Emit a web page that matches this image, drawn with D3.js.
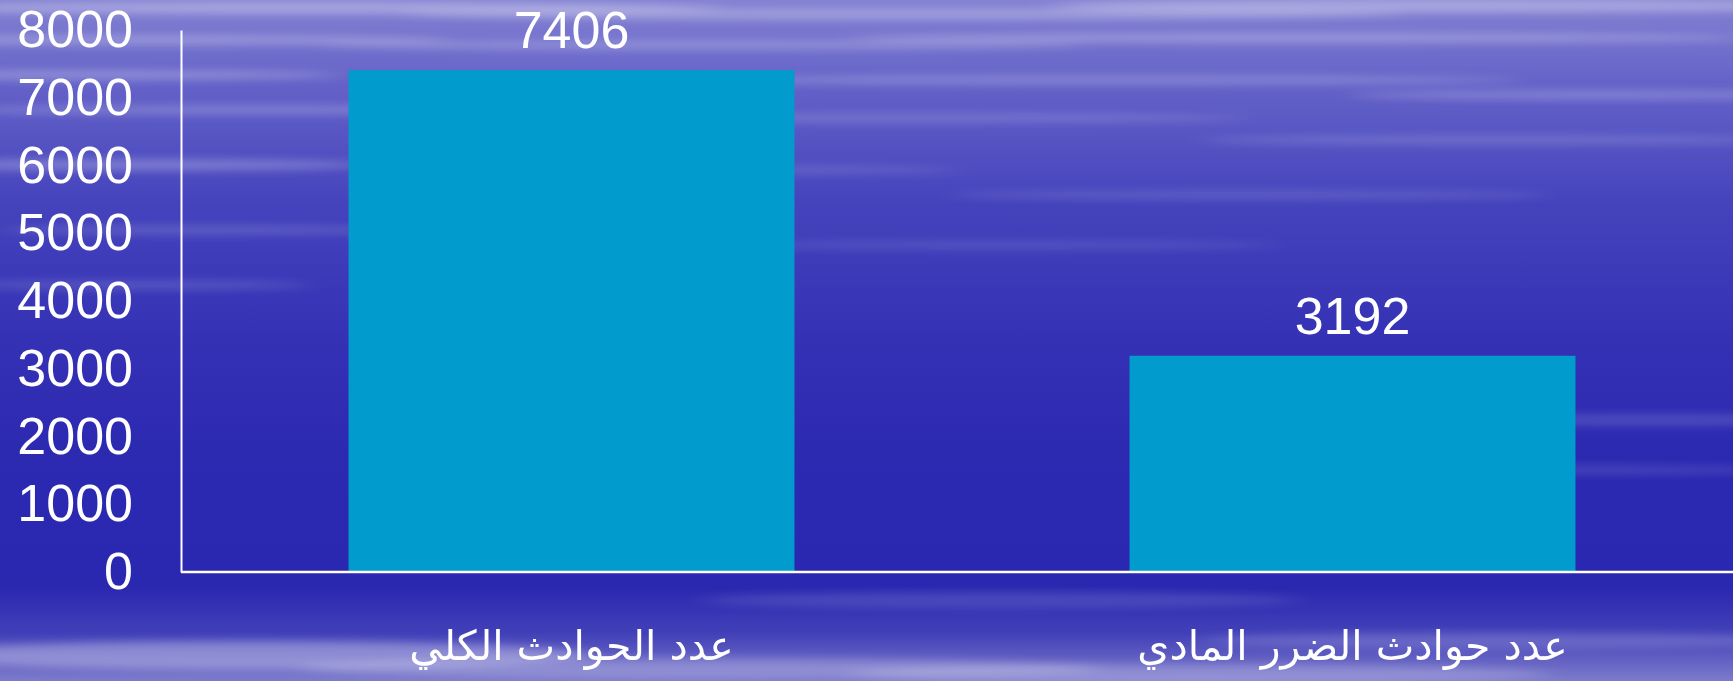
<!DOCTYPE html>
<html>
<head>
<meta charset="utf-8">
<script src="https://cdn.jsdelivr.net/npm/d3@7/dist/d3.min.js"></script>
<style>
html,body{margin:0;padding:0;background:#2b29b1;overflow:hidden;}
svg{display:block;}
</style>
</head>
<body>
<svg id="chart" width="1733" height="681"></svg>
<script>
const categories = ["عدد الحوادث الكلي", "عدد حوادث الضرر المادي"];
const values = [7406, 3192];
const yTicks = [0, 1000, 2000, 3000, 4000, 5000, 6000, 7000, 8000];

const W = 1733, H = 681;
const svg = d3.select("#chart");
const defs = svg.append("defs");

// background gradient
const bg = defs.append("linearGradient").attr("id","bg").attr("x1",0).attr("y1",0).attr("x2",0).attr("y2",1);
[[0,"#8381d2"],[0.12,"#6563c8"],[0.3,"#4543bc"],[0.5,"#3431b5"],[0.7,"#2b28b1"],[0.86,"#2a27b0"],[0.93,"#4240b8"],[1,"#7d7bcb"]]
  .forEach(([o,c]) => bg.append("stop").attr("offset",o).attr("stop-color",c));
svg.append("rect").attr("width",W).attr("height",H).attr("fill","url(#bg)");

// decorative soft streaks
const blur = defs.append("filter").attr("id","blur").attr("x","-50%").attr("y","-200%").attr("width","200%").attr("height","500%");
blur.append("feGaussianBlur").attr("stdDeviation","14 4");
const streaks = [
  [300,8,420,6,0.3],[900,14,500,6,0.25],[1450,6,400,7,0.3],[150,40,300,5,0.25],[700,45,380,5,0.2],
  [1300,38,450,5,0.25],[80,75,260,5,0.25],[1100,80,420,5,0.2],[1600,95,250,5,0.2],[250,110,300,5,0.2],
  [900,118,350,5,0.15],[1500,140,300,5,0.15],[120,165,250,6,0.25],[700,170,260,5,0.12],[1250,195,300,5,0.12],
  [200,230,200,5,0.15],[1000,245,280,5,0.1],[130,285,180,5,0.14],[1650,420,200,6,0.15],[1600,470,180,5,0.12],
  [1000,600,300,8,0.12],[1500,640,300,8,0.16],[250,655,340,14,0.3],[700,668,400,10,0.22],[1200,674,350,10,0.2]
];
svg.append("g").attr("filter","url(#blur)").selectAll("ellipse").data(streaks).join("ellipse")
  .attr("cx",d=>d[0]).attr("cy",d=>d[1]).attr("rx",d=>d[2]).attr("ry",d=>d[3])
  .attr("fill","#ffffff").attr("opacity",d=>d[4]);

const x0 = 181, xR = 1743, yTop = 30, yBase = 572;
const x = d3.scaleBand().domain(categories).range([x0, xR]).paddingInner(0.429).paddingOuter(0.2145);
const y = d3.scaleLinear().domain([0, 8000]).range([yBase, yTop]);

// bars
svg.append("g").selectAll("rect").data(values).join("rect")
  .attr("x",(d,i)=>x(categories[i])).attr("width",x.bandwidth())
  .attr("y",d=>y(d)).attr("height",d=>y(0)-y(d))
  .attr("fill","#019bce");

// y axis
const yAxis = svg.append("g").attr("transform",`translate(${x0},0)`)
  .call(d3.axisLeft(y).tickValues(yTicks).tickSize(0).tickPadding(48).tickFormat(d3.format("d")));
yAxis.select(".domain").attr("stroke","#ffffff").attr("stroke-width",2);
yAxis.selectAll("text").attr("fill","#ffffff").attr("font-family","'Liberation Sans', Arial, sans-serif").attr("font-size",52);

// baseline
svg.append("line").attr("x1",x0).attr("x2",W).attr("y1",y(0)).attr("y2",y(0))
  .attr("stroke","#ffffff").attr("stroke-width",2.5);

// value labels
svg.append("g").selectAll("text").data(values).join("text")
  .attr("x",(d,i)=>x(categories[i])+x.bandwidth()/2).attr("y",d=>y(d)-22)
  .attr("text-anchor","middle").attr("fill","#ffffff")
  .attr("font-family","'Liberation Sans', Arial, sans-serif").attr("font-size",52)
  .text(d=>d);

// category labels
svg.append("g").selectAll("text").data(categories).join("text")
  .attr("x",d=>x(d)+x.bandwidth()/2).attr("y",660)
  .attr("text-anchor","middle").attr("direction","rtl").attr("fill","#ffffff")
  .attr("font-family","'DejaVu Sans', sans-serif").attr("font-size",41)
  .text(d=>d);
</script>
</body>
</html>
